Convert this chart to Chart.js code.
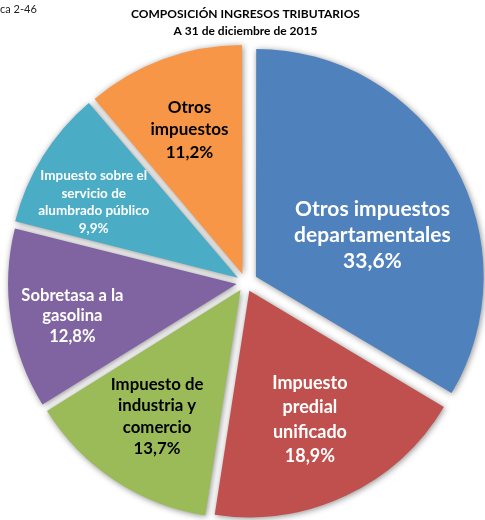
<!DOCTYPE html>
<html>
<head>
<meta charset="utf-8">
<script src="https://cdn.jsdelivr.net/npm/chart.js@4"></script>
<style>
  body { margin: 0; background: #fff; }
  #wrap { position: relative; width: 485px; height: 520px; }
  #tag { position: absolute; left: 0; top: 2px; font: 11px Lato, sans-serif; color: #222; }
</style>
</head>
<body>
<div id="wrap">
  <div id="tag">ca 2-46</div>
  <canvas id="myChart" width="485" height="520"></canvas>
</div>
<script>
// Ingresos tributarios, % del total
var labels = [
  ["Otros impuestos", "departamentales"],
  ["Impuesto", "predial", "unificado"],
  ["Impuesto de", "industria y", "comercio"],
  ["Sobretasa a la", "gasolina"],
  ["Impuesto sobre el", "servicio de", "alumbrado público"],
  ["Otros", "impuestos"]
];
var values = [33.6, 18.9, 13.7, 12.8, 9.9, 11.2];
var sliceColors = ["#4F81BD", "#C0504D", "#9BBB59", "#8064A2", "#4BACC6", "#F79646"];
var sliceOffsets = [48, 36, 36, 36, 36, 36];

// label look per slice
var textColors = ["#fff", "#fff", "#000", "#fff", "#fff", "#000"];
var fontSizes = [21, 18, 16.8, 16.6, 13.5, 17];
var lineHeights = [26, 24.5, 21.3, 20.5, 17.7, 22.5];
var labelRadius = [0.6, 0.67, 0.71, 0.78, 0.76, 0.72];
var labelTurn = [9, 0, 0, -2, -4, 0];

const pieShadow = {
  id: "pieShadow",
  beforeDatasetsDraw(chart) {
    const ctx = chart.ctx;
    ctx.save();
    ctx.shadowColor = "rgba(0,0,0,0.45)";
    ctx.shadowBlur = 6;
    ctx.shadowOffsetX = 1;
    ctx.shadowOffsetY = 1;
  },
  afterDatasetsDraw(chart) {
    chart.ctx.restore();
  }
};

const sliceLabels = {
  id: "sliceLabels",
  afterDatasetsDraw(chart) {
    const ctx = chart.ctx;
    const meta = chart.getDatasetMeta(0);
    meta.data.forEach((arc, i) => {
      const p = arc.getProps(["x", "y", "startAngle", "endAngle", "outerRadius"], true);
      const mid = (p.startAngle + p.endAngle) / 2 + labelTurn[i] * Math.PI / 180;
      const r = p.outerRadius * labelRadius[i];
      const x = p.x + Math.cos(mid) * r;
      const y = p.y + Math.sin(mid) * r;
      const lines = labels[i].concat([values[i].toFixed(1).replace(".", ",") + "%"]);
      ctx.save();
      ctx.fillStyle = textColors[i];
      ctx.font = "bold " + fontSizes[i] + "px Lato, sans-serif";
      ctx.textAlign = "center";
      ctx.textBaseline = "middle";
      const top = y - (lines.length - 1) * lineHeights[i] / 2;
      lines.forEach((t, k) => ctx.fillText(t, x, top + k * lineHeights[i]));
      ctx.restore();
    });
  }
};

new Chart("myChart", {
  type: "pie",
  data: {
    labels: labels,
    datasets: [{
      data: values,
      backgroundColor: sliceColors,
      borderWidth: 0,
      offset: sliceOffsets,
      hoverOffset: 0
    }]
  },
  options: {
    responsive: false,
    animation: false,
    radius: 226,
    layout: { padding: { left: 12, right: 6, top: 6, bottom: 3 } },
    plugins: {
      legend: { display: false },
      tooltip: { enabled: false },
      title: {
        display: true,
        text: ["COMPOSICIÓN INGRESOS TRIBUTARIOS", "A 31 de diciembre de 2015"],
        color: "#000",
        font: { family: "Lato", size: 12, weight: "bold", lineHeight: 1.4 },
        padding: { top: 0, bottom: 8.5 }
      }
    }
  },
  plugins: [pieShadow, sliceLabels]
});
</script>
</body>
</html>
